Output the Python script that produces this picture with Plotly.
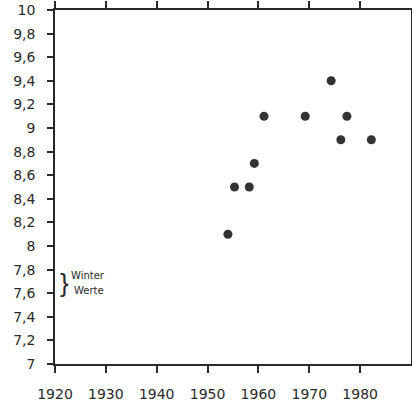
import plotly.graph_objects as go

years = [1954, 1955.3, 1958.2, 1959.2, 1961.1, 1969.2, 1974.3, 1976.2, 1977.4, 1982.2]
values = [8.1, 8.5, 8.5, 8.7, 9.1, 9.1, 9.4, 8.9, 9.1, 8.9]

x_ticks = [1920, 1930, 1940, 1950, 1960, 1970, 1980]
y_ticks = [7, 7.2, 7.4, 7.6, 7.8, 8, 8.2, 8.4, 8.6, 8.8, 9, 9.2, 9.4, 9.6, 9.8, 10]
y_labels = ["7", "7,2", "7,4", "7,6", "7,8", "8", "8,2", "8,4", "8,6", "8,8", "9", "9,2", "9,4", "9,6", "9,8", "10"]

ink = "#2a2a2a"
font = "DejaVu Sans"

fig = go.Figure()
fig.add_trace(go.Scatter(
    x=years, y=values, mode="markers",
    marker=dict(size=9, color="#333333", line=dict(width=0)),
    showlegend=False, hoverinfo="skip",
))

fig.add_annotation(x=1921.8, y=7.69, xref="x", yref="y", text="}", showarrow=False,
                   font=dict(family="Liberation Sans", size=26, color=ink), xanchor="center", yanchor="middle")
fig.add_annotation(x=1922.8, y=7.75, xref="x", yref="y", text="Winter", showarrow=False,
                   font=dict(family=font, size=10, color=ink), xanchor="left", yanchor="middle")
fig.add_annotation(x=1923.4, y=7.62, xref="x", yref="y", text="Werte", showarrow=False,
                   font=dict(family=font, size=10, color=ink), xanchor="left", yanchor="middle")

fig.update_layout(
    width=412, height=403,
    margin=dict(l=55, r=1, t=7, b=39),
    paper_bgcolor="white", plot_bgcolor="white",
    font=dict(family=font, size=14, color=ink),
    xaxis=dict(
        range=[1920, 1990], tickmode="array", tickvals=x_ticks,
        ticktext=[str(v) for v in x_ticks],
        showgrid=False, zeroline=False, automargin=True,
        showline=True, linecolor=ink, linewidth=1.5, mirror="ticks",
        ticks="outside", ticklen=7, tickwidth=1.5, tickcolor=ink,
        tickfont=dict(family=font, size=14, color=ink),
        ticklabelstandoff=9,
    ),
    yaxis=dict(
        range=[7, 10], tickmode="array", tickvals=y_ticks, ticktext=y_labels,
        showgrid=False, zeroline=False, automargin=False,
        showline=True, linecolor=ink, linewidth=1.5, mirror=True,
        ticks="outside", ticklen=6, tickwidth=1.5, tickcolor=ink,
        tickfont=dict(family=font, size=14, color=ink),
        ticklabelstandoff=9, ticklabeloverflow="allow",
    ),
)

fig.write_html("out.html", config={"displayModeBar": False},
               post_script="document.body.style.margin='0';document.body.style.overflow='hidden';")
